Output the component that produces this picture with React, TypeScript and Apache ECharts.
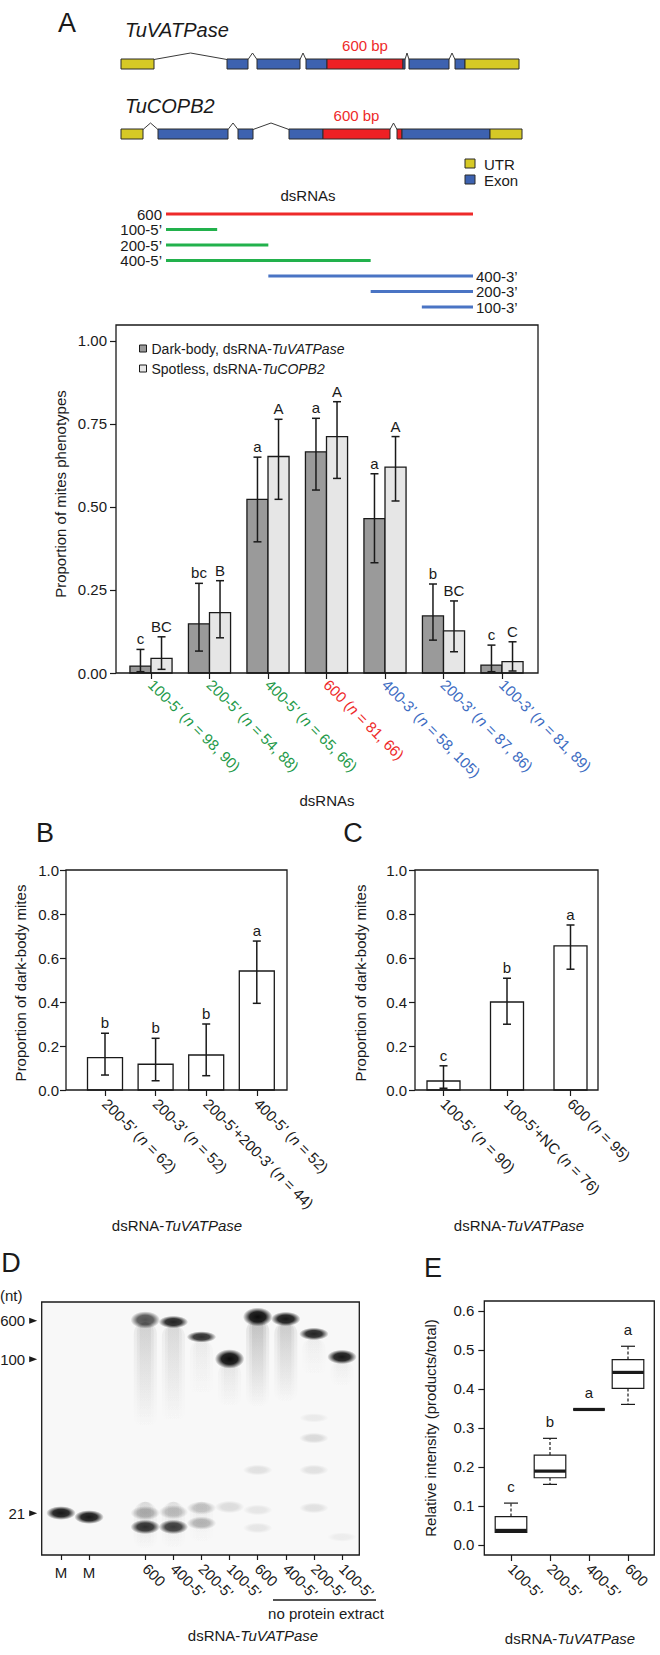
import React, { useEffect, useRef } from "react";
import * as echarts from "echarts";

const FONT = "'Liberation Sans', Arial, Helvetica, sans-serif";
const INK = "#1a1a1a";

// ---------------- Panel A: gene models (units along the drawn transcript) ----------------
const geneNames = ["TuVATPase", "TuCOPB2"];
const vatpaseParts: [string, number, number][] = [
  ["utr", 0, 33], ["intron", 33, 106], ["exon", 106, 127], ["intron", 127, 136],
  ["exon", 136, 179], ["intron", 179, 185], ["exon", 185, 206], ["target", 206, 282],
  ["exon", 282, 284], ["intron", 284, 288], ["exon", 288, 328], ["intron", 328, 334],
  ["exon", 334, 344], ["utr", 344, 398],
];
const copb2Parts: [string, number, number][] = [
  ["utr", 0, 22], ["intron", 22, 37], ["exon", 37, 107], ["intron", 107, 117],
  ["exon", 117, 132], ["intron", 132, 168], ["exon", 168, 202], ["target", 202, 269],
  ["intron", 269, 276], ["target", 276, 281], ["exon", 281, 369], ["utr", 369, 401],
];
const targetLabel = "600 bp";
const geneLegend = ["UTR", "Exon"];

// ---------------- Panel A: dsRNA fragments (bp within the 600 bp target) ----------------
const dsrnaNames = ["600", "100-5’", "200-5’", "400-5’", "400-3’", "200-3’", "100-3’"];
const dsrnaStart = [0, 0, 0, 0, 200, 400, 500];
const dsrnaEnd = [600, 100, 200, 400, 600, 600, 600];
const dsrnaGroup = ["r", "g", "g", "g", "b", "b", "b"];

// ---------------- Panel A: bar chart ----------------
const aCategories = ["100-5’", "200-5’", "400-5’", "600", "400-3’", "200-3’", "100-3’"];
const aN = ["98, 90", "54, 88", "65, 66", "81, 66", "58, 105", "87, 86", "81, 89"];
const aGroup = ["g", "g", "g", "r", "b", "b", "b"];
const aDark = [0.021, 0.148, 0.523, 0.666, 0.465, 0.172, 0.024];
const aDarkLo = [0.004, 0.066, 0.395, 0.551, 0.332, 0.099, 0.004];
const aDarkHi = [0.071, 0.27, 0.65, 0.767, 0.6, 0.268, 0.084];
const aLight = [0.044, 0.182, 0.652, 0.712, 0.62, 0.127, 0.034];
const aLightLo = [0.011, 0.106, 0.523, 0.586, 0.518, 0.064, 0.006];
const aLightHi = [0.109, 0.278, 0.764, 0.817, 0.712, 0.217, 0.094];
const aDarkLetters = ["c", "bc", "a", "a", "a", "b", "c"];
const aLightLetters = ["BC", "B", "A", "A", "A", "BC", "C"];
const aTicks = [0, 0.25, 0.5, 0.75, 1.0];

// ---------------- Panel B ----------------
const bCategories = ["200-5’", "200-3’", "200-5’+200-3’", "400-5’"];
const bN = [62, 52, 44, 52];
const bValues = [0.147, 0.117, 0.159, 0.541];
const bLo = [0.068, 0.042, 0.065, 0.394];
const bHi = [0.258, 0.235, 0.3, 0.677];
const bLetters = ["b", "b", "b", "a"];

// ---------------- Panel C ----------------
const cCategories = ["100-5’", "100-5’+NC", "600"];
const cN = [90, 76, 95];
const cValues = [0.041, 0.4, 0.655];
const cLo = [0.008, 0.299, 0.549];
const cHi = [0.11, 0.508, 0.75];
const cLetters = ["c", "b", "a"];
const bcTicks = [0, 0.2, 0.4, 0.6, 0.8, 1.0];

// ---------------- Panel D: gel (migration, % of gel length from the top) ----------------
const gelLanes = ["M", "M", "", "600", "400-5’", "200-5’", "100-5’", "600", "400-5’", "200-5’", "100-5’"];
const gelLadder: [string, number][] = [["600", 7.4], ["100", 22.6], ["21", 83.5]];
// [lane slot, migration, intensity, band spread]
const gelBands: [number, number, number, number][] = [
  [0, 83.4, 0.95, 3.4], [1, 85.0, 0.95, 3.4],
  [3, 7.1, 0.7, 4.5], [3, 83.4, 0.28, 3.5], [3, 88.9, 0.85, 3.6],
  [4, 7.9, 0.9, 3.0], [4, 83.0, 0.22, 3.5], [4, 88.9, 0.8, 3.6],
  [5, 13.8, 0.85, 2.6], [5, 81.4, 0.2, 3.2], [5, 87.4, 0.28, 3.2],
  [6, 22.5, 1.0, 5.2], [6, 81.0, 0.12, 3.0],
  [7, 5.9, 1.0, 5.0], [7, 66.4, 0.1, 2.4], [7, 82.2, 0.08, 2.4], [7, 89.3, 0.08, 2.4],
  [8, 6.7, 0.95, 3.6],
  [9, 12.6, 0.9, 3.0], [9, 45.8, 0.06, 2.0], [9, 53.8, 0.13, 2.4], [9, 66.4, 0.1, 2.4], [9, 81.4, 0.1, 2.4],
  [10, 21.7, 0.95, 3.6], [10, 92.9, 0.05, 2.0],
];
// [lane slot, from, to, intensity]
const gelSmears: [number, number, number, number][] = [
  [3, 8, 50, 0.14], [4, 9, 48, 0.11], [5, 15, 38, 0.05], [6, 24, 42, 0.07],
  [7, 7, 42, 0.2], [8, 8, 40, 0.16], [9, 14, 30, 0.04], [10, 23, 34, 0.04],
  [3, 79, 98, 0.1], [4, 79, 98, 0.08], [5, 79, 96, 0.05],
];

// ---------------- Panel E: boxplot ----------------
const eCategories = ["100-5’", "200-5’", "400-5’", "600"];
const eMin = [0.032, 0.155, 0.347, 0.36];
const eQ1 = [0.032, 0.172, 0.347, 0.401];
const eMedian = [0.037, 0.189, 0.347, 0.442];
const eQ3 = [0.0725, 0.23, 0.347, 0.475];
const eMax = [0.107, 0.273, 0.347, 0.509];
const eLetters = ["c", "b", "a", "a"];
const eTicks = [0, 0.1, 0.2, 0.3, 0.4, 0.5, 0.6];

// ---------------- styling ----------------
const TEXT_COL: any = { g: "#1f9a4a", r: "#ee2a2a", b: "#3d6cc2" };
const LINE_COL: any = { g: "#22b14c", r: "#ee2a2a", b: "#4a74c4" };
const GENE_COL: any = { utr: "#d6c925", exon: "#3d62b0", target: "#ed2024" };
const DARK = "#9a9a9a";
const LIGHT = "#e6e6e6";

const FR_A = { x: 116, y: 325, w: 422, h: 348 };
const FR_B = { x: 66, y: 870, w: 221, h: 220 };
const FR_C = { x: 415, y: 870, w: 183, h: 220 };
const FR_D = { x: 41.7, y: 1302, w: 317.6, h: 253 };
const FR_E = { x: 484.3, y: 1301, w: 170, h: 254 };

function t(x: number, y: number, text: string, extra: any = {}, el: any = {}) {
  return {
    type: "text", x, y, z: 60, ...el,
    style: { text, fontSize: 15, fontFamily: FONT, fill: INK, align: "center", verticalAlign: "middle", ...extra },
  };
}
function frame(f: any) {
  return { type: "rect", z: 50, shape: { x: f.x, y: f.y, width: f.w, height: f.h }, style: { fill: "none", stroke: INK, lineWidth: 1.3 } };
}
const italicRich = {
  a: { fontSize: 15, fontFamily: FONT, fill: INK, color: INK },
  b: { fontSize: 15, fontFamily: FONT, fill: INK, color: INK, fontStyle: "italic" },
};
const dsTitle = "{a|dsRNA-}{b|TuVATPase}";

function catAxis(gridIndex: number, data: string[], extra: any = {}) {
  return {
    type: "category", gridIndex, data, position: "bottom",
    axisLine: { show: false, onZero: false },
    axisTick: { show: true, alignWithLabel: true, length: 6, lineStyle: { color: INK, width: 1.2 } },
    axisLabel: { interval: 0, rotate: -45, margin: 11, fontSize: 15, fontFamily: FONT, color: INK },
    splitLine: { show: false },
    ...extra,
  };
}
function valAxis(gridIndex: number, min: number, max: number, ticks: number[], digits: number, offset: number, margin: number) {
  return {
    type: "value", gridIndex, min, max, offset,
    axisLine: { show: false, onZero: false },
    axisTick: { show: true, length: 6, lineStyle: { color: INK, width: 1.2 }, customValues: ticks },
    axisLabel: { customValues: ticks, formatter: (v: number) => v.toFixed(digits), margin, fontSize: 15, fontFamily: FONT, color: INK },
    splitLine: { show: false },
  };
}

function errorGroup(api: any, cx: number, lo: number, hi: number, letter: string) {
  const pLo = api.coord([0, lo])[1];
  const pHi = api.coord([0, hi])[1];
  const st = { stroke: INK, lineWidth: 1.5 };
  return [
    { type: "line", shape: { x1: cx, y1: pLo, x2: cx, y2: pHi }, style: st },
    { type: "line", shape: { x1: cx - 4, y1: pHi, x2: cx + 4, y2: pHi }, style: st },
    { type: "line", shape: { x1: cx - 4, y1: pLo, x2: cx + 4, y2: pLo }, style: st },
    { type: "text", style: { text: letter, x: cx, y: pHi - 3, align: "center", verticalAlign: "bottom", fontSize: 15, fontFamily: FONT, fill: INK } },
  ];
}

function pairedBars(vals: number[], lo: number[], hi: number[], letters: string[], side: number, fill: string) {
  return (params: any, api: any) => {
    const i = params.dataIndex;
    const base = api.coord([i, 0]);
    const top = api.coord([i, vals[i]]);
    const w = api.size([1, 0])[0] * 0.36;
    const x0 = side < 0 ? base[0] - w : base[0];
    const cx = x0 + w / 2;
    return {
      type: "group",
      children: [
        { type: "rect", shape: { x: x0, y: top[1], width: w, height: base[1] - top[1] }, style: { fill, stroke: INK, lineWidth: 1.3 } },
        ...errorGroup(api, cx, lo[i], hi[i], letters[i]),
      ],
    };
  };
}
function singleBars(vals: number[], lo: number[], hi: number[], letters: string[], barW: number) {
  return (params: any, api: any) => {
    const i = params.dataIndex;
    const base = api.coord([i, 0]);
    const top = api.coord([i, vals[i]]);
    return {
      type: "group",
      children: [
        { type: "rect", shape: { x: base[0] - barW / 2, y: top[1], width: barW, height: base[1] - top[1] }, style: { fill: "#ffffff", stroke: INK, lineWidth: 1.3 } },
        ...errorGroup(api, base[0], lo[i], hi[i], letters[i]),
      ],
    };
  };
}

function buildOption() {
  const geneSegments = [
    ...vatpaseParts.map((p) => ({ row: 0, kind: p[0], s: p[1], e: p[2] })),
    ...copb2Parts.map((p) => ({ row: 1, kind: p[0], s: p[1], e: p[2] })),
  ];

  const aRich: any = {};
  ["g", "r", "b"].forEach((k) => {
    aRich[k] = { color: TEXT_COL[k], fontSize: 15, fontFamily: FONT };
    aRich[k + "i"] = { color: TEXT_COL[k], fontSize: 15, fontFamily: FONT, fontStyle: "italic" };
  });
  const plainRich = {
    t: { color: INK, fontSize: 15, fontFamily: FONT },
    i: { color: INK, fontSize: 15, fontFamily: FONT, fontStyle: "italic" },
  };

  const graphicEls: any[] = [
    t(67, 23, "A", { fontSize: 27 }),
    t(45, 833, "B", { fontSize: 27 }),
    t(353, 833, "C", { fontSize: 27 }),
    t(11, 1263, "D", { fontSize: 27 }),
    t(433, 1268, "E", { fontSize: 27 }),
    t(125, 30, geneNames[0], { fontSize: 20, fontStyle: "italic", align: "left" }),
    t(125, 106, geneNames[1], { fontSize: 20, fontStyle: "italic", align: "left" }),
    { type: "rect", z: 60, shape: { x: 465, y: 159, width: 10, height: 9 }, style: { fill: GENE_COL.utr, stroke: "#2a2a2a", lineWidth: 1 } },
    { type: "rect", z: 60, shape: { x: 465, y: 175, width: 10, height: 9 }, style: { fill: GENE_COL.exon, stroke: "#2a2a2a", lineWidth: 1 } },
    t(484, 164, geneLegend[0], { align: "left" }),
    t(484, 180, geneLegend[1], { align: "left" }),
    t(308, 195, "dsRNAs"),
    frame(FR_A),
    t(60, 494, "Proportion of mites phenotypes", {}, { rotation: Math.PI / 2 }),
    t(327, 800, "dsRNAs"),
    frame(FR_B),
    frame(FR_C),
    t(20, 983, "Proportion of dark-body mites", {}, { rotation: Math.PI / 2 }),
    t(360, 983, "Proportion of dark-body mites", {}, { rotation: Math.PI / 2 }),
    t(177, 1225, dsTitle, { rich: italicRich }),
    t(519, 1225, dsTitle, { rich: italicRich }),
    { type: "rect", z: 0, shape: { x: FR_D.x, y: FR_D.y, width: FR_D.w, height: FR_D.h }, style: { fill: "#f8f8f8" } },
    frame(FR_D),
    t(0, 1295, "(nt)", { align: "left" }),
    { type: "line", z: 60, shape: { x1: 273, y1: 1600, x2: 376, y2: 1600 }, style: { stroke: INK, lineWidth: 1.3 } },
    t(326, 1613, "no protein extract"),
    t(253, 1635, dsTitle, { rich: italicRich }),
    frame(FR_E),
    t(430, 1428, "Relative intensity (products/total)", {}, { rotation: Math.PI / 2 }),
    t(570, 1638, dsTitle, { rich: italicRich }),
  ];

  return {
    animation: false,
    backgroundColor: "#ffffff",
    textStyle: { fontFamily: FONT, color: INK },
    grid: [
      { left: 121, top: 64, width: 400, height: 70, outerBoundsMode: "none" },
      { left: 166, top: 214, width: 307, height: 93, outerBoundsMode: "none" },
      { left: 121.75, top: FR_A.y, width: 409.5, height: FR_A.h, outerBoundsMode: "none" },
      { left: 79.7, top: FR_B.y, width: 202.4, height: FR_B.h, outerBoundsMode: "none" },
      { left: 411.75, top: FR_C.y, width: 190.5, height: FR_C.h, outerBoundsMode: "none" },
      { left: 46.95, top: FR_D.y, width: 309.1, height: FR_D.h, outerBoundsMode: "none" },
      { left: 491.5, top: FR_E.y, width: 156, height: FR_E.h, outerBoundsMode: "none" },
    ],
    xAxis: [
      { type: "value", gridIndex: 0, min: 0, max: 400, show: false },
      { type: "value", gridIndex: 1, min: 0, max: 600, show: false },
      catAxis(2, aCategories, {
        axisLabel: {
          interval: 0, rotate: -45, margin: 9, rich: aRich,
          formatter: (v: string, idx: number) => {
            const k = aGroup[idx];
            return `{${k}|${v} (}{${k}i|n}{${k}| = ${aN[idx]})}`;
          },
        },
      }),
      catAxis(3, bCategories, {
        axisLabel: { interval: 0, rotate: -45, margin: 11, rich: plainRich, formatter: (v: string, idx: number) => `{t|${v} (}{i|n}{t| = ${bN[idx]})}` },
      }),
      catAxis(4, cCategories, {
        axisLabel: { interval: 0, rotate: -45, margin: 11, rich: plainRich, formatter: (v: string, idx: number) => `{t|${v} (}{i|n}{t| = ${cN[idx]})}` },
      }),
      catAxis(5, gelLanes, {
        axisTick: { show: true, alignWithLabel: true, length: 5, interval: (i: number) => gelLanes[i] !== "", lineStyle: { color: INK, width: 1.2 } },
        axisLabel: { interval: 0, rotate: 0, margin: 10, fontSize: 15, fontFamily: FONT, color: INK, formatter: (v: string) => (v === "M" ? v : "") },
      }),
      catAxis(5, gelLanes, {
        axisTick: { show: false },
        axisLabel: { interval: 0, rotate: -45, margin: 11, fontSize: 15, fontFamily: FONT, color: INK, formatter: (v: string) => (v === "M" ? "" : v) },
      }),
      catAxis(6, eCategories),
    ],
    yAxis: [
      { type: "value", gridIndex: 0, min: 0, max: 1, inverse: true, show: false },
      { type: "value", gridIndex: 1, min: 0, max: 6, inverse: true, show: false },
      valAxis(2, 0, 1.048, aTicks, 2, 121.75 - FR_A.x, 9),
      valAxis(3, 0, 1, bcTicks, 1, 79.7 - FR_B.x, 7),
      valAxis(4, 0, 1, bcTicks, 1, 411.75 - FR_C.x, 8),
      { type: "value", gridIndex: 5, min: 0, max: 100, inverse: true, show: false },
      valAxis(6, -0.026, 0.625, eTicks, 1, 491.5 - FR_E.x, 10),
    ],
    legend: {
      left: 134, top: 336, orient: "vertical", itemWidth: 7, itemHeight: 7, itemGap: 5, selectedMode: false,
      data: [
        { name: "dark", icon: "rect", itemStyle: { color: DARK, borderColor: INK, borderWidth: 1 } },
        { name: "light", icon: "rect", itemStyle: { color: LIGHT, borderColor: INK, borderWidth: 1 } },
      ],
      formatter: (name: string) => (name === "dark" ? "{a|Dark-body, dsRNA-}{b|TuVATPase}" : "{a|Spotless, dsRNA-}{b|TuCOPB2}"),
      textStyle: {
        fontSize: 14, fontFamily: FONT, color: INK, lineHeight: 15,
        rich: {
          a: { fontSize: 14, fontFamily: FONT, color: INK },
          b: { fontSize: 14, fontFamily: FONT, color: INK, fontStyle: "italic" },
        },
      },
    },
    graphic: { elements: graphicEls },
    series: [
      {
        type: "custom", xAxisIndex: 0, yAxisIndex: 0, silent: true,
        data: geneSegments.map((g) => [g.s, g.row, g.e]),
        encode: { x: [0, 2], y: 1 },
        renderItem: (params: any, api: any) => {
          const g = geneSegments[params.dataIndex];
          const a = api.coord([g.s, g.row]);
          const b = api.coord([g.e, g.row]);
          const h = 10;
          const top = a[1] - h / 2;
          if (g.kind === "intron") {
            return {
              type: "polyline",
              shape: { points: [[a[0], top + 0.5], [(a[0] + b[0]) / 2, top - 6], [b[0], top + 0.5]] },
              style: { stroke: "#3a3a3a", lineWidth: 1, fill: null },
            };
          }
          const children: any[] = [
            { type: "rect", shape: { x: a[0], y: top, width: b[0] - a[0], height: h }, style: { fill: GENE_COL[g.kind], stroke: "#2a2a2a", lineWidth: 1 } },
          ];
          const firstTarget = geneSegments.findIndex((x) => x.row === g.row && x.kind === "target");
          if (g.kind === "target" && firstTarget === params.dataIndex) {
            children.push({
              type: "text",
              style: { text: targetLabel, x: (a[0] + b[0]) / 2, y: top - 14, align: "center", verticalAlign: "middle", fontSize: 15, fontFamily: FONT, fill: "#ee2a2a" },
            });
          }
          return { type: "group", children };
        },
      },
      {
        type: "custom", xAxisIndex: 1, yAxisIndex: 1, silent: true,
        data: dsrnaNames.map((_, i) => [dsrnaStart[i], i, dsrnaEnd[i]]),
        encode: { x: [0, 2], y: 1 },
        renderItem: (params: any, api: any) => {
          const i = params.dataIndex;
          const a = api.coord([dsrnaStart[i], i]);
          const b = api.coord([dsrnaEnd[i], i]);
          const left = dsrnaStart[i] === 0;
          return {
            type: "group",
            children: [
              { type: "line", shape: { x1: a[0], y1: a[1], x2: b[0], y2: b[1] }, style: { stroke: LINE_COL[dsrnaGroup[i]], lineWidth: 3 } },
              {
                type: "text",
                style: {
                  text: dsrnaNames[i], x: left ? a[0] - 4 : b[0] + 3, y: a[1],
                  align: left ? "right" : "left", verticalAlign: "middle", fontSize: 15, fontFamily: FONT, fill: INK,
                },
              },
            ],
          };
        },
      },
      {
        name: "dark", type: "custom", xAxisIndex: 2, yAxisIndex: 2, silent: true,
        itemStyle: { color: DARK },
        data: aCategories.map((_, i) => [i, aDark[i], aDarkLo[i], aDarkHi[i]]),
        encode: { x: 0, y: [1, 2, 3] },
        renderItem: pairedBars(aDark, aDarkLo, aDarkHi, aDarkLetters, -1, DARK),
      },
      {
        name: "light", type: "custom", xAxisIndex: 2, yAxisIndex: 2, silent: true,
        itemStyle: { color: LIGHT },
        data: aCategories.map((_, i) => [i, aLight[i], aLightLo[i], aLightHi[i]]),
        encode: { x: 0, y: [1, 2, 3] },
        renderItem: pairedBars(aLight, aLightLo, aLightHi, aLightLetters, 1, LIGHT),
      },
      {
        type: "custom", xAxisIndex: 3, yAxisIndex: 3, silent: true,
        data: bCategories.map((_, i) => [i, bValues[i], bLo[i], bHi[i]]),
        encode: { x: 0, y: [1, 2, 3] },
        renderItem: singleBars(bValues, bLo, bHi, bLetters, 35),
      },
      {
        type: "custom", xAxisIndex: 4, yAxisIndex: 4, silent: true,
        data: cCategories.map((_, i) => [i, cValues[i], cLo[i], cHi[i]]),
        encode: { x: 0, y: [1, 2, 3] },
        renderItem: singleBars(cValues, cLo, cHi, cLetters, 33),
      },
      // gel smears (two overlapping soft columns)
      {
        type: "custom", xAxisIndex: 5, yAxisIndex: 5, silent: true, z: 3,
        data: gelSmears.map((s) => [s[0], s[1], s[2]]),
        encode: { x: 0, y: [1, 2] },
        renderItem: (params: any, api: any) => {
          const [slot, from, to, a] = gelSmears[params.dataIndex];
          const p0 = api.coord([slot, from]);
          const p1 = api.coord([slot, to]);
          const lw = api.size([1, 0])[0];
          const grad = (k: number) =>
            new echarts.graphic.LinearGradient(0, 0, 0, 1, [
              { offset: 0, color: `rgba(20,20,20,${a * k})` },
              { offset: 0.35, color: `rgba(20,20,20,${a * k * 0.6})` },
              { offset: 1, color: "rgba(20,20,20,0)" },
            ]);
          return {
            type: "group",
            children: [0.82, 0.6, 0.4].map((f) => ({
              type: "rect",
              shape: { x: p0[0] - (lw * f) / 2, y: p0[1], width: lw * f, height: p1[1] - p0[1], r: (lw * f) / 2 },
              style: { fill: grad(0.45) },
            })),
          };
        },
      },
      // gel bands
      {
        type: "custom", xAxisIndex: 5, yAxisIndex: 5, silent: true, z: 4,
        data: gelBands.map((b) => [b[0], b[1]]),
        encode: { x: 0, y: 1 },
        renderItem: (params: any, api: any) => {
          const [slot, pos, inten, spread] = gelBands[params.dataIndex];
          const c = api.coord([slot, pos]);
          const half = Math.abs(api.coord([slot, pos + spread / 2])[1] - c[1]);
          const laneW = api.size([1, 0])[0];
          const rx = (laneW * 0.42) / 0.8;
          const ry = half / 0.8 + 1.5;
          return {
            type: "ellipse",
            shape: { cx: c[0], cy: c[1], rx, ry },
            style: {
              fill: new echarts.graphic.RadialGradient(0.5, 0.5, 0.5, [
                { offset: 0, color: `rgba(12,12,12,${inten})` },
                { offset: 0.55, color: `rgba(12,12,12,${inten * 0.9})` },
                { offset: 1, color: "rgba(12,12,12,0)" },
              ]),
            },
          };
        },
      },
      // gel size markers
      {
        type: "custom", xAxisIndex: 5, yAxisIndex: 5, silent: true, z: 5,
        data: gelLadder.map((m) => [0, m[1]]),
        encode: { x: 0, y: 1 },
        renderItem: (params: any, api: any) => {
          const [label, pos] = gelLadder[params.dataIndex];
          const y = api.coord([0, pos])[1];
          const tip = FR_D.x - 4.5;
          return {
            type: "group",
            children: [
              { type: "polygon", shape: { points: [[tip - 8, y - 3], [tip, y], [tip - 8, y + 3]] }, style: { fill: INK } },
              { type: "text", style: { text: label, x: tip - 12, y, align: "right", verticalAlign: "middle", fontSize: 15, fontFamily: FONT, fill: INK } },
            ],
          };
        },
      },
      // panel E boxplot
      {
        type: "custom", xAxisIndex: 7, yAxisIndex: 6, silent: true,
        data: eCategories.map((_, i) => [i, eMin[i], eQ1[i], eMedian[i], eQ3[i], eMax[i]]),
        encode: { x: 0, y: [1, 2, 3, 4, 5] },
        renderItem: (params: any, api: any) => {
          const i = params.dataIndex;
          const cx = api.coord([i, 0])[0];
          const y = (v: number) => api.coord([i, v])[1];
          const w = api.size([1, 0])[0] * 0.81;
          const st = { stroke: INK, lineWidth: 1.2 };
          const dash = { stroke: INK, lineWidth: 1.2, lineDash: [3, 2] };
          return {
            type: "group",
            children: [
              { type: "line", shape: { x1: cx, y1: y(eQ3[i]), x2: cx, y2: y(eMax[i]) }, style: dash },
              { type: "line", shape: { x1: cx, y1: y(eQ1[i]), x2: cx, y2: y(eMin[i]) }, style: dash },
              { type: "line", shape: { x1: cx - 7, y1: y(eMax[i]), x2: cx + 7, y2: y(eMax[i]) }, style: st },
              { type: "line", shape: { x1: cx - 7, y1: y(eMin[i]), x2: cx + 7, y2: y(eMin[i]) }, style: st },
              { type: "rect", shape: { x: cx - w / 2, y: y(eQ3[i]), width: w, height: y(eQ1[i]) - y(eQ3[i]) }, style: { fill: "#ffffff", ...st } },
              { type: "line", shape: { x1: cx - w / 2, y1: y(eMedian[i]), x2: cx + w / 2, y2: y(eMedian[i]) }, style: { stroke: INK, lineWidth: 3.2 } },
              { type: "text", style: { text: eLetters[i], x: cx, y: y(eMax[i]) - 9, align: "center", verticalAlign: "bottom", fontSize: 15, fontFamily: FONT, fill: INK } },
            ],
          };
        },
      },
    ],
  };
}

export default function App() {
  const ref = useRef<HTMLDivElement>(null);
  useEffect(() => {
    document.body.style.margin = "0";
    const chart = echarts.init(ref.current as HTMLDivElement, null, { renderer: "svg" });
    chart.setOption(buildOption() as any);
    return () => chart.dispose();
  }, []);
  return <div ref={ref} style={{ width: 660, height: 1655 }} />;
}
